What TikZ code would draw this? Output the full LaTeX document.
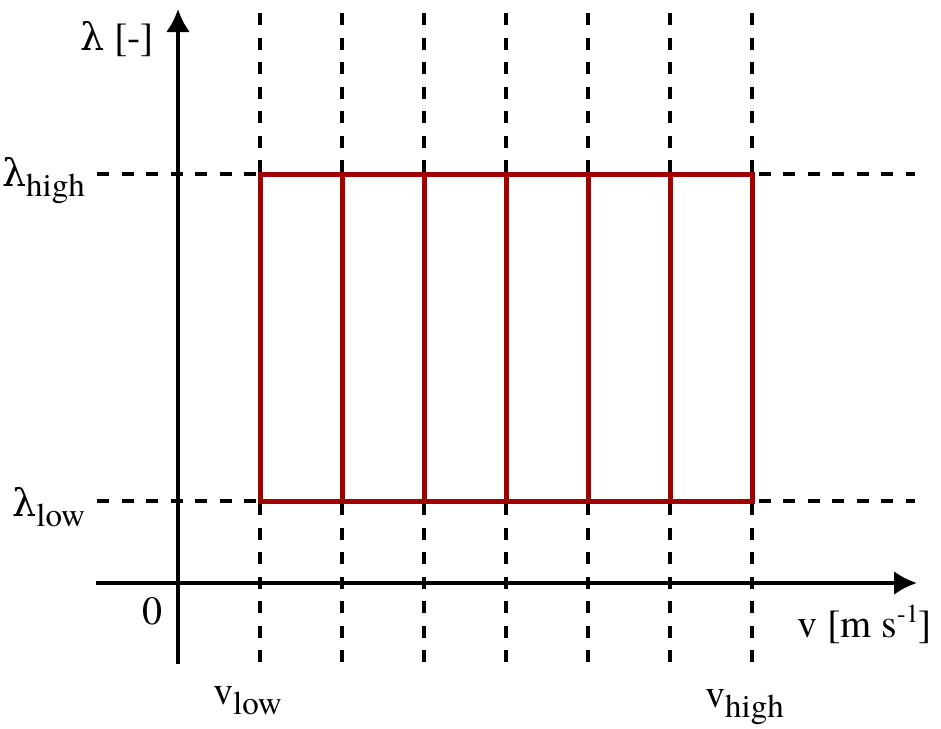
\documentclass[tikz,border=0pt]{standalone}
\usepackage{fontspec}
\setmainfont{texgyretermes}[Extension=.otf,UprightFont=*-regular,BoldFont=*-bold,ItalicFont=*-italic,BoldItalicFont=*-bolditalic]
\newfontfamily\greekfont{DejaVu Serif}
\usetikzlibrary{arrows.meta}
\definecolor{boxred}{RGB}{160,0,0}
\newcommand\lam{{\greekfont\fontsize{38}{46}\selectfont λ}}
\newcommand\lsub[1]{\raisebox{-10pt}{\fontsize{33}{38}\selectfont #1}}
\newcommand\lsup[1]{\raisebox{15pt}{\fontsize{26}{30}\selectfont #1}}
\begin{document}
\begin{tikzpicture}[x=1pt,y=-1pt,
  axis/.style={line width=4pt,-{Latex[length=23pt,width=24pt]}},
  guide/.style={line width=4pt,dash pattern=on 12pt off 12.5pt},
  cell/.style={line width=5pt,draw=boxred,line cap=rect},
  lbl/.style={inner sep=0pt,font=\fontsize{40}{48}\selectfont}]
\useasboundingbox (0,0) rectangle (941,728);
% guide lines
\foreach \i/\x in {0/260,1/342,2/424,3/506,4/588,5/670,6/752}{
  \coordinate (t\i) at (\x,13);
  \coordinate (b\i) at (\x,665);
  \draw[guide] (t\i) -- (b\i);
}
\coordinate (hl) at (97,174); \coordinate (hr) at (915,174);
\coordinate (ll) at (97,501); \coordinate (lr) at (915,501);
\draw[guide] (hl) -- (hr);
\draw[guide] (ll) -- (lr);
% axes
\coordinate (yb) at (178,664); \coordinate (yt) at (178,9);
\coordinate (xl) at (96,583); \coordinate (xr) at (917,583);
\draw[axis] (yb) -- (yt);
\draw[axis] (xl) -- (xr);
% red cells
\foreach \i/\x in {0/260,1/342,2/424,3/506,4/588,5/670,6/752}{
  \coordinate (rh\i) at (\x,174);
  \coordinate (rl\i) at (\x,501);
  \draw[cell] (rh\i) -- (rl\i);
}
\draw[cell] (rh0) -- (rh6);
\draw[cell] (rl0) -- (rl6);
% labels
\node[lbl,anchor=base west] (ylab) at (80,50) {\lam{} [-]};
\node[lbl,anchor=base east] (lhigh) at (85,186) {\lam\lsub{high}};
\node[lbl,anchor=base east] (llow) at (85,516) {\lam\lsub{low}};
\node[lbl,anchor=base] (zero) at (152,624) {0};
\node[lbl,anchor=base west] (xlab) at (797,637) {v [m s\lsup{-1}]};
\node[lbl,anchor=base west] (vlow) at (213,704) {v\lsub{low}};
\node[lbl,anchor=base west] (vhigh) at (705,707) {v\lsub{high}};
\end{tikzpicture}
\end{document}
